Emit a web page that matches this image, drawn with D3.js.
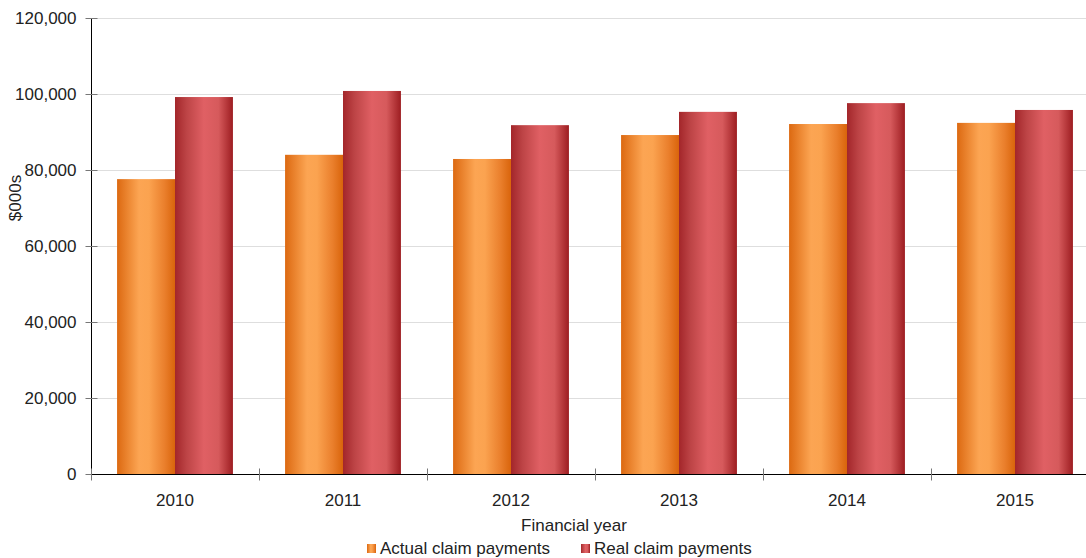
<!DOCTYPE html>
<html>
<head>
<meta charset="utf-8">
<script src="https://cdn.jsdelivr.net/npm/d3@7"></script>
<style>
  html, body { margin: 0; padding: 0; background: #fff; }
  svg { display: block; font-family: "Liberation Sans", Arial, sans-serif; }
</style>
</head>
<body>
<svg id="chart" width="1086" height="558"></svg>
<script>
// Claim payments by financial year ($000s)
const years = ["2010", "2011", "2012", "2013", "2014", "2015"];
const seriesNames = ["Actual claim payments", "Real claim payments"];
const actualPayments = [77600, 84000, 82900, 89200, 92100, 92400];
const realPayments = [99200, 100800, 91800, 95300, 97600, 95800];
const yTicks = [0, 20000, 40000, 60000, 80000, 100000, 120000];

const svg = d3.select("#chart");
const margin = { left: 91, top: 18, bottom: 84 };
const plotW = 1008;
const plotH = 558 - margin.top - margin.bottom;
const fontSize = 17;

const rows = years.map((y, i) => ({ year: y, values: [actualPayments[i], realPayments[i]] }));

const x = d3.scaleBand().domain(years).range([margin.left, margin.left + plotW]);
const xSub = d3.scaleBand().domain(seriesNames).range([0, x.bandwidth()]).paddingOuter(0.45);
const y = d3.scaleLinear().domain([0, 120000]).range([margin.top + plotH, margin.top]);

// Cylindrical-looking horizontal gradients for the bars
const defs = svg.append("defs");
const gradStops = [
  [[0, "#dc6911"], [0.38, "#fca553"], [0.55, "#fba350"], [0.82, "#ea7f2c"], [1, "#d9640b"]],
  [[0, "#a3262a"], [0.2, "#bd4446"], [0.5, "#e06064"], [0.75, "#d65a5c"], [1, "#9d1d21"]]
];
gradStops.forEach((stops, i) => {
  const g = defs.append("linearGradient").attr("id", "grad" + i)
    .attr("x1", "0").attr("x2", "1").attr("y1", "0").attr("y2", "0");
  stops.forEach(s => g.append("stop").attr("offset", s[0]).attr("stop-color", s[1]));
});

// Horizontal gridlines
svg.append("g")
  .selectAll("line")
  .data(yTicks.filter(t => t > 0))
  .join("line")
  .attr("x1", margin.left).attr("x2", margin.left + plotW)
  .attr("y1", d => Math.round(y(d)) + 0.5).attr("y2", d => Math.round(y(d)) + 0.5)
  .attr("stroke", "#dedede").attr("stroke-width", 1);

// Bars
svg.append("g")
  .selectAll("g")
  .data(rows)
  .join("g")
  .attr("transform", d => `translate(${x(d.year)},0)`)
  .selectAll("rect")
  .data(d => d.values.map((v, i) => ({ v, i })))
  .join("rect")
  .attr("x", d => xSub(seriesNames[d.i]))
  .attr("width", xSub.bandwidth())
  .attr("y", d => y(d.v))
  .attr("height", d => y(0) - y(d.v))
  .attr("fill", d => `url(#grad${d.i})`);

// Y axis
const yAxis = svg.append("g")
  .attr("transform", `translate(${margin.left + 0.5},0)`)
  .call(d3.axisLeft(y).tickValues(yTicks).tickSize(6).tickPadding(9)
    .tickFormat(d3.format(",")));
yAxis.select(".domain").attr("stroke", "#000").attr("d", `M0,${y(120000)}V${y(0)}`);
yAxis.selectAll(".tick line").attr("stroke", "#777").attr("x1", -6).attr("x2", 6);
yAxis.selectAll(".tick text").attr("font-size", fontSize).attr("fill", "#222")
  .attr("font-family", "Liberation Sans, Arial, sans-serif");

// X axis
const xAxis = svg.append("g")
  .attr("transform", `translate(0,${y(0) + 0.5})`);
xAxis.append("line")
  .attr("x1", margin.left).attr("x2", margin.left + plotW)
  .attr("stroke", "#000");
xAxis.selectAll(".xtick")
  .data(years)
  .join("line")
  .attr("x1", d => Math.round(x(d)) + 0.5).attr("x2", d => Math.round(x(d)) + 0.5)
  .attr("y1", -6).attr("y2", 6)
  .attr("stroke", "#777");
xAxis.selectAll("text")
  .data(years)
  .join("text")
  .attr("x", d => x(d) + x.bandwidth() / 2)
  .attr("y", 31)
  .attr("text-anchor", "middle")
  .attr("font-size", fontSize).attr("fill", "#222")
  .text(d => d);

// Axis titles
svg.append("text")
  .attr("x", 574).attr("y", 531)
  .attr("text-anchor", "middle")
  .attr("font-size", fontSize).attr("fill", "#222")
  .text("Financial year");
svg.append("text")
  .attr("transform", "translate(21,198) rotate(-90)")
  .attr("text-anchor", "middle")
  .attr("font-size", fontSize).attr("fill", "#222")
  .text("$000s");

// Legend
const legendX = [367, 581];
const legend = svg.append("g")
  .selectAll("g")
  .data(seriesNames)
  .join("g")
  .attr("transform", (d, i) => `translate(${legendX[i]},544)`);
legend.append("rect")
  .attr("width", 9).attr("height", 9)
  .attr("fill", (d, i) => `url(#grad${i})`);
legend.append("text")
  .attr("x", 13).attr("y", 9.5)
  .attr("font-size", fontSize).attr("fill", "#222")
  .text(d => d);
</script>
</body>
</html>
